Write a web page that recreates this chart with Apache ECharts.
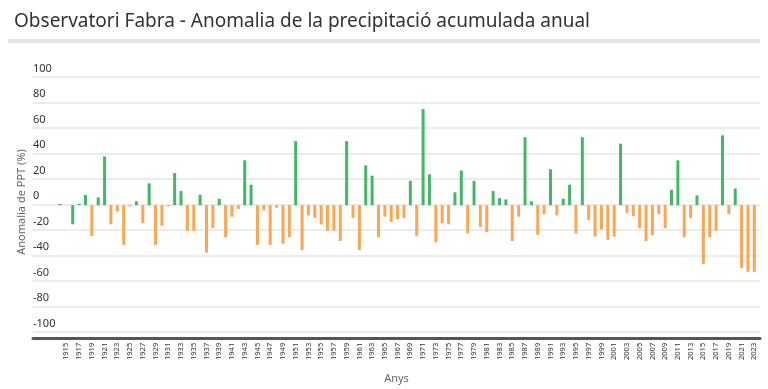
<!DOCTYPE html>
<html>
<head>
<meta charset="utf-8">
<script src="https://cdn.jsdelivr.net/npm/echarts@6/dist/echarts.min.js"></script>
<style>html,body{margin:0;padding:0;background:#fff}#c{width:768px;height:389px}</style>
</head>
<body>
<div id="c"></div>
<script>
const years = [];
for (let y = 1914; y <= 2023; y++) years.push(String(y));

const anomaly = [
  1, 0, -15, 1, 8, -24, 6, 38, -15, -5,
  -31, -1, 3, -14, 17, -31, -16, -1, 25, 11,
  -20, -20, 8, -37, -18, 5, -25, -9, -3, 35,
  16, -31, -4, -31, -2, -30, -25, 50, -35, -8,
  -10, -15, -20, -20, -28, 50, -10, -35, 31, 23,
  -25, -9, -13, -11, -10, 19, -24, 75, 24, -29,
  -14, -15, 10, 27, -22, 19, -17, -21, 11, 5.5,
  4.5, -28, -9, 53, 3, -23, -7, 28, -8, 5,
  16, -22, 53, -11.5, -24.5, -19, -27, -24.5, 48, -6,
  -8.6, -18, -28, -23.4, -7, -18, 12, 35, -25, -10,
  7.6, -46, -25, -20, 54.5, -7, 13, -49, -52, -52
];

const greenNegativeYears = ['1916'];

const yTicks = { min: -100, max: 100, step: 20 };

const titleText = 'Observatori Fabra - Anomalia de la precipitació acumulada anual';
const yName = 'Anomalia de PPT (%)';
const xName = 'Anys';

const GREEN = '#40b866';
const ORANGE = '#ffa54f';

const chart = echarts.init(document.getElementById('c'), null, { renderer: 'canvas' });
const FONT = 'Noto Sans';

chart.setOption({
  animation: false,
  backgroundColor: '#fff',
  textStyle: { fontFamily: FONT },
  title: {
    text: titleText,
    left: 9, top: 7,
    textStyle: { fontFamily: FONT, fontSize: 19, fontWeight: 'normal', color: '#333' }
  },
  graphic: [
    {
      type: 'rect', left: 8, top: 39,
      shape: { width: 752, height: 4 },
      style: { fill: '#e6e6e6' }, silent: true
    },
    {
      type: 'text', x: 22, y: 202, rotation: Math.PI / 2, silent: true,
      style: {
        text: yName, align: 'center', verticalAlign: 'middle',
        fill: '#666', font: '11px "Noto Sans"'
      }
    }
  ],
  grid: [
    { left: 33, right: 8, top: 77, bottom: 55.7 },
    { left: 56.8, right: 10.5, top: 77, bottom: 55.7 }
  ],
  xAxis: [
    {
      gridIndex: 0, type: 'value', min: 0, max: 1, position: 'bottom', offset: 6,
      axisLine: { show: true, onZero: false, lineStyle: { color: '#555', width: 3 } },
      axisTick: { show: false }, axisLabel: { show: false }, splitLine: { show: false },
      name: xName, nameLocation: 'middle', nameGap: 35,
      nameTextStyle: { fontFamily: FONT, fontSize: 11, color: '#666' }
    },
    {
      gridIndex: 1, type: 'category', data: years, boundaryGap: true,
      axisLine: { show: false }, axisTick: { show: false }, splitLine: { show: false },
      axisLabel: {
        rotate: 90, margin: 9.5, fontSize: 7.5, color: '#333', fontFamily: FONT,
        interval: (i, v) => Number(v) % 2 === 1
      }
    }
  ],
  yAxis: [
    {
      gridIndex: 0, type: 'value', min: yTicks.min, max: yTicks.max, interval: yTicks.step,
      axisLine: { show: false }, axisTick: { show: false },
      splitLine: { show: true, lineStyle: { color: '#e6e6e6', width: 1.5 } },
      axisLabel: {
        inside: true, margin: 0, align: 'left', verticalAlign: 'bottom', padding: [0, 0, 3, 0],
        fontSize: 11, color: '#333', fontFamily: FONT
      }
    },
    {
      gridIndex: 1, type: 'value', min: yTicks.min, max: yTicks.max, interval: yTicks.step, show: false
    }
  ],
  series: [{
    type: 'bar', xAxisIndex: 1, yAxisIndex: 1,
    data: anomaly, barWidth: 3,
    itemStyle: {
      color: (p) => (p.value >= 0 || greenNegativeYears.includes(p.name)) ? GREEN : ORANGE
    }
  }]
});
</script>
</body>
</html>
